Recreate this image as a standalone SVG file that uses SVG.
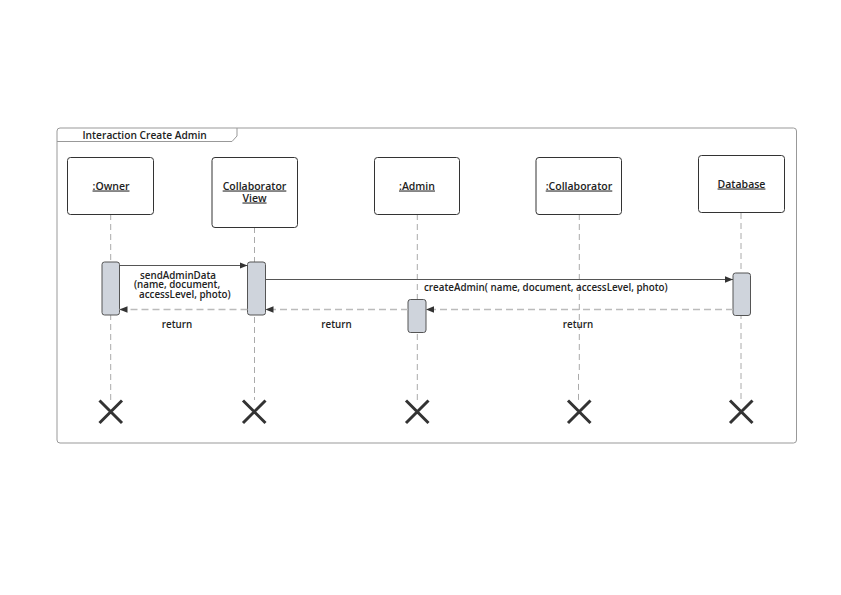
<svg xmlns="http://www.w3.org/2000/svg" width="841" height="595" viewBox="0 0 841 595">
<style>
text{font-family:"Open Sans","Liberation Sans",sans-serif;font-weight:600;fill:#222;font-size:9.8px}
.box{fill:#fff;stroke:#333;stroke-width:1}
.lbl{text-anchor:middle;text-decoration:underline;font-size:10.5px}
.ttl{font-size:10.2px}
.life{stroke:#aaa;stroke-width:1;stroke-dasharray:6,4;fill:none}
.act{fill:#cfd4dc;stroke:#555;stroke-width:1}
.msg{stroke:#555;stroke-width:1;fill:none}
.ret{stroke:#bbb;stroke-width:1.6;stroke-dasharray:7,4;fill:none}
.x{stroke:#333;stroke-width:3;fill:none}
.mid{text-anchor:middle}
</style>
<defs>
<marker id="ah" viewBox="0 0 10 10" refX="10" refY="5" markerWidth="8" markerHeight="8" markerUnits="userSpaceOnUse" orient="auto"><path d="M0,1 L10,5 L0,9 z" fill="#333"/></marker>
</defs>
<rect width="841" height="595" fill="#fff"/>
<g id="frame">
<rect x="57" y="128" width="739.5" height="315" rx="3" fill="none" stroke="#999" stroke-width="1"/>
<path d="M57,141.5 H232 L237,136 V128" fill="none" stroke="#999" stroke-width="1"/>
<text class="ttl" x="82.5" y="138.5">Interaction Create Admin</text>
</g>
<g id="lifelines">
<line class="life" x1="110.7" y1="214" x2="110.7" y2="400"/>
<line class="life" x1="254.5" y1="227" x2="254.5" y2="400"/>
<line class="life" x1="417.3" y1="214" x2="417.3" y2="400"/>
<path class="life" d="M579.3,214 V370 L578.5,374 V400"/>
<line class="life" x1="741" y1="213" x2="741" y2="400"/>
</g>
<g id="owner"><rect class="box" x="67.5" y="157.5" width="86" height="57" rx="3"/><text class="lbl" x="111" y="189.5">:Owner</text></g>
<g id="collabview"><rect class="box" x="212" y="157.5" width="85.5" height="70" rx="3"/><text class="lbl" x="254.5" y="189.5">Collaborator</text><text class="lbl" x="254.5" y="201.5">View</text></g>
<g id="admin"><rect class="box" x="374.5" y="157.5" width="85" height="57" rx="3"/><text class="lbl" x="417" y="189.5">:Admin</text></g>
<g id="collaborator"><rect class="box" x="536" y="157.5" width="85.5" height="57" rx="3"/><text class="lbl" x="579" y="189.5">:Collaborator</text></g>
<g id="database"><rect class="box" x="698.5" y="155.5" width="86" height="57" rx="3"/><text class="lbl" x="741.5" y="187.5">Database</text></g>
<g id="activations">
<rect class="act" x="102" y="262" width="17.5" height="53" rx="2.5"/>
<rect class="act" x="247.5" y="262" width="18" height="53" rx="2.5"/>
<rect class="act" x="408" y="299.5" width="18" height="33" rx="2.5"/>
<rect class="act" x="733" y="273" width="17.5" height="42.5" rx="2.5"/>
</g>
<g id="connectors">
<line class="msg" x1="119.5" y1="265.5" x2="247.5" y2="265.5" marker-end="url(#ah)"/>
<line class="msg" x1="265.5" y1="279.5" x2="733" y2="279.5" marker-end="url(#ah)"/>
<line class="ret" x1="733" y1="309.5" x2="426" y2="309.5" marker-end="url(#ah)"/>
<line class="ret" x1="408" y1="309.5" x2="265.5" y2="309.5" marker-end="url(#ah)"/>
<line class="ret" x1="247.5" y1="309.5" x2="119.5" y2="309.5" marker-end="url(#ah)"/>
</g>
<g id="labels">
<text x="140" y="278.5">sendAdminData</text>
<text x="134" y="288">(name, document,</text>
<text x="139" y="298">accessLevel, photo)</text>
<text x="424" y="291">createAdmin( name, document, accessLevel, photo)</text>
<text class="mid" x="177" y="327.5">return</text>
<text class="mid" x="336.5" y="327.5">return</text>
<text class="mid" x="578" y="327.5">return</text>
</g>
<g id="destroys">
<path class="x" d="M99.5,400.5 L122,423 M122,400.5 L99.5,423"/>
<path class="x" d="M243,400.5 L265.5,423 M265.5,400.5 L243,423"/>
<path class="x" d="M406,400.5 L428.5,423 M428.5,400.5 L406,423"/>
<path class="x" d="M568,400.5 L590.5,423 M590.5,400.5 L568,423"/>
<path class="x" d="M730,400.5 L752.5,423 M752.5,400.5 L730,423"/>
</g>
</svg>
